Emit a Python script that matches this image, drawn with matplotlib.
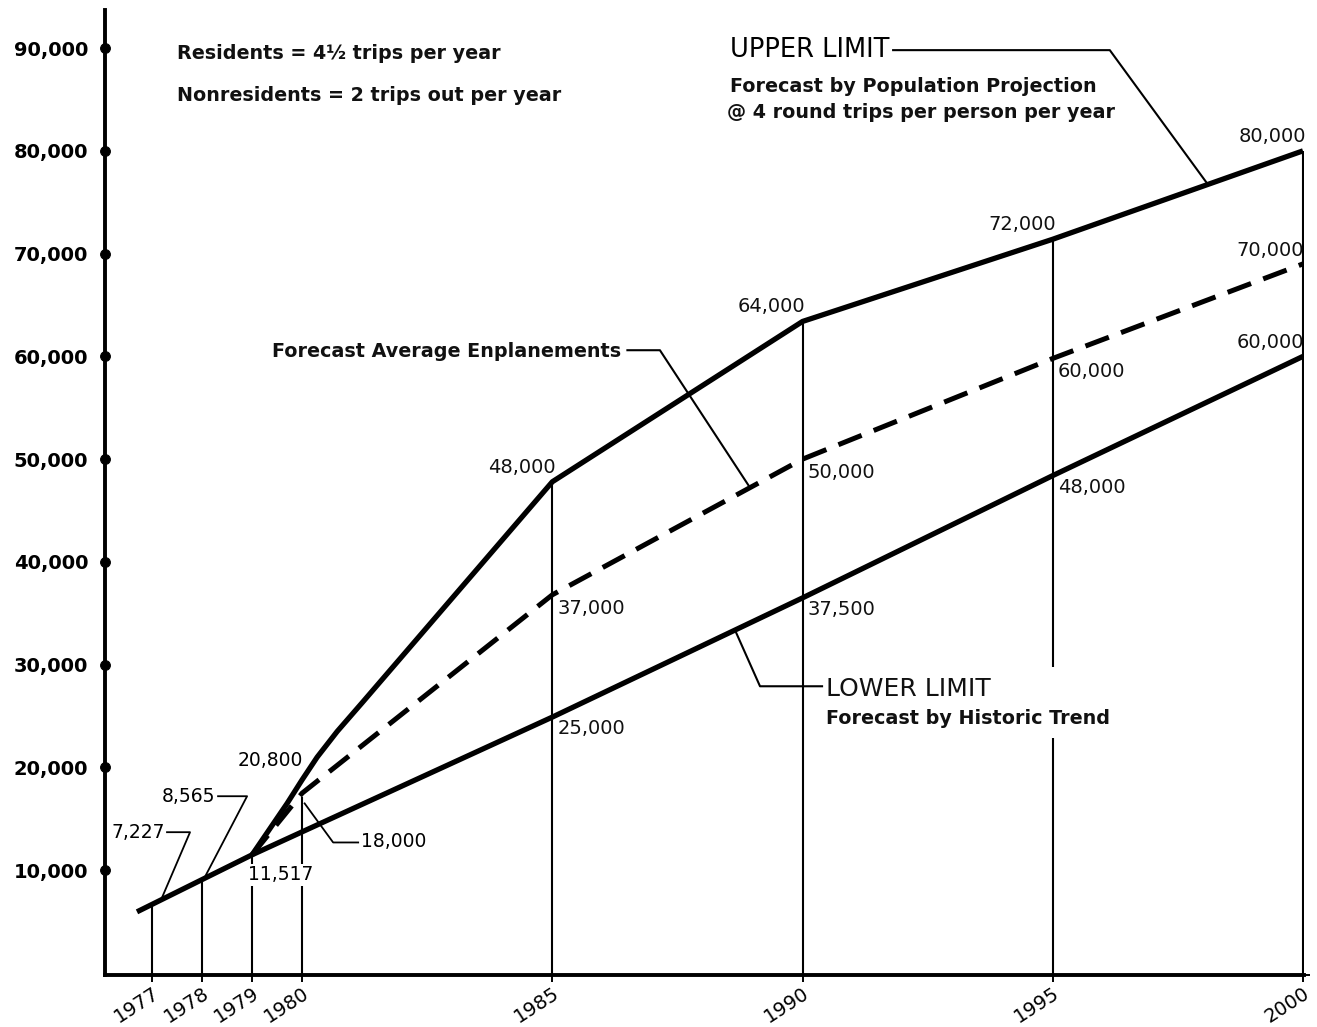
import matplotlib.pyplot as plt
import numpy as np
from matplotlib.offsetbox import TextArea, VPacker, AnnotationBbox

plt.rcParams['font.family'] = ['DejaVu Sans']

# axis ticks
tick_years = [1977, 1978, 1979, 1980, 1985, 1990, 1995, 2000]
y_ticks = [10000, 20000, 30000, 40000, 50000, 60000, 70000, 80000, 90000]

# forecast lines as drawn
upper_years = [1979, 1979.7, 1980, 1980.3, 1980.7, 1981.2, 1985, 1990, 1995, 2000]
upper_vals = [11500, 16500, 18800, 21000, 23500, 26300, 47800, 63400, 71400, 80000]

avg_years = [1979, 1980, 1985, 1990, 1995, 2000]
avg_vals = [11500, 17500, 36800, 50000, 59800, 69000]

lower_years = [1976.7, 1979, 1985, 1990, 1995, 2000]
lower_vals = [5950, 11500, 24900, 36500, 48400, 60000]

# printed values
upper_labels = ['48,000', '64,000', '72,000', '80,000']
avg_labels = ['37,000', '50,000', '60,000', '70,000']
lower_labels = ['25,000', '37,500', '48,000', '60,000']
label_years = [1985, 1990, 1995, 2000]

fig = plt.figure(figsize=(13.17, 10.27), dpi=100)
ax = fig.add_axes([0.0797, 0.0506, 0.9104, 0.9396])
ax.set_xlim(1976.06, 2000.02)
ax.set_ylim(-200, 93700)

def on(years, vals, x):
    return float(np.interp(x, years, vals))

# vertical year lines up to the top curve
vert_tops = [on(lower_years, lower_vals, 1977), on(lower_years, lower_vals, 1978),
             on(lower_years, lower_vals, 1979), on(avg_years, avg_vals, 1980) - 400,
             on(upper_years, upper_vals, 1985), on(upper_years, upper_vals, 1990),
             on(upper_years, upper_vals, 1995), on(upper_years, upper_vals, 2000)]
ax.vlines(tick_years, 0, vert_tops, color='black', lw=1.5, zorder=2)

ax.plot(upper_years, upper_vals, color='black', lw=3.8, solid_capstyle='butt', zorder=3)
ax.plot(lower_years, lower_vals, color='black', lw=3.8, solid_capstyle='butt', zorder=3)
ax.plot(avg_years, avg_vals, color='black', lw=3.6, linestyle=(0, (5, 2.6)), zorder=3)

# point labels
lab = dict(fontsize=14, color='#111111', textcoords='offset pixels', zorder=5)
for yr, t in zip(label_years, upper_labels):
    ax.annotate(t, (yr, on(upper_years, upper_vals, yr)), xytext=(3, 5), ha='right', va='bottom', **lab)
for yr, t in zip(label_years, avg_labels):
    if yr == 2000:
        ax.annotate(t, (yr, on(avg_years, avg_vals, yr)), xytext=(1, 4), ha='right', va='bottom', **lab)
    else:
        ax.annotate(t, (yr, on(avg_years, avg_vals, yr)), xytext=(5, -4), ha='left', va='top', **lab)
for yr, t in zip(label_years, lower_labels):
    if yr == 2000:
        ax.annotate(t, (yr, on(lower_years, lower_vals, yr)), xytext=(1, 4), ha='right', va='bottom', **lab)
    else:
        ax.annotate(t, (yr, on(lower_years, lower_vals, yr)), xytext=(5, -2), ha='left', va='top', **lab)

# early year labels with leaders
ax.text(1977.26, 13650, '7,227', ha='right', va='center', fontsize=13.5)
ax.plot([1977.30, 1977.76, 1977.18], [13700, 13700, on(lower_years, lower_vals, 1977.18)],
        color='black', lw=1.3)
ax.text(1978.26, 17150, '8,565', ha='right', va='center', fontsize=13.5)
ax.plot([1978.32, 1978.90, 1978.04], [17200, 17200, on(lower_years, lower_vals, 1978.04)],
        color='black', lw=1.3)
ax.text(1980.02, 20700, '20,800', ha='right', va='center', fontsize=13.5)
ax.text(1978.92, 9550, '11,517', ha='left', va='center', fontsize=13.5, zorder=6,
        bbox=dict(fc='white', ec='none', pad=1))
ax.plot([1980.05, 1980.62, 1981.12], [16500, 12700, 12700], color='black', lw=1.3)
ax.text(1981.18, 12750, '18,000', ha='left', va='center', fontsize=13.5)

# notes
bold = dict(fontsize=13.8, fontweight='bold', color='#111111')
ax.text(1977.5, 89500, 'Residents = 4½ trips per year', ha='left', va='center', **bold)
ax.text(1977.5, 85400, 'Nonresidents = 2 trips out per year', ha='left', va='center', **bold)

ax.text(1988.55, 89800, 'UPPER LIMIT', ha='left', va='center', fontsize=18.5)
ax.text(1988.55, 86300, 'Forecast by Population Projection', ha='left', va='center', **bold)
ax.text(1988.5, 83700, '@ 4 round trips per person per year', ha='left', va='center', **bold)
ax.plot([1991.81, 1996.14, 1998.1], [89800, 89800, on(upper_years, upper_vals, 1998.1)],
        color='black', lw=1.5)

ax.text(1979.4, 60500, 'Forecast Average Enplanements', ha='left', va='center', **bold)
ax.plot([1986.5, 1987.15, 1988.95], [60600, 60600, on(avg_years, avg_vals, 1988.95)],
        color='black', lw=1.5)

low_box = VPacker(children=[TextArea('LOWER LIMIT', textprops=dict(fontsize=18, color='#111111')),
                            TextArea('Forecast by Historic Trend', textprops=bold)],
                  align='left', pad=0, sep=6)
ab = AnnotationBbox(low_box, (1990.47, 26350), box_alignment=(0, 0.5), frameon=True,
                    bboxprops=dict(fc='white', ec='none'), pad=0.7, zorder=6)
ax.add_artist(ab)
ax.plot([1988.65, 1989.15, 1990.39], [on(lower_years, lower_vals, 1988.65), 27900, 27900],
        color='black', lw=1.5, zorder=7)

# axes styling
for s in ['top', 'right']:
    ax.spines[s].set_visible(False)
for s in ['left', 'bottom']:
    ax.spines[s].set_linewidth(2.8)
ax.set_xticks(tick_years)
ax.set_xticklabels([str(y) for y in tick_years], rotation=33, ha='right',
                   rotation_mode='anchor', fontsize=14)
ax.set_yticks(y_ticks)
ax.set_yticklabels([f'{v:,}' for v in y_ticks], fontsize=14, fontweight='bold')
ax.tick_params(axis='y', length=0, pad=12)
ax.tick_params(axis='x', length=0, pad=6)
for t in ax.yaxis.get_major_ticks():
    t.tick1line.set_marker('o')
    t.tick1line.set_markersize(7)
    t.tick1line.set_markerfacecolor('black')
    t.tick1line.set_markeredgecolor('black')
for t in ax.xaxis.get_major_ticks():
    t.tick1line.set_marker('+')
    t.tick1line.set_markersize(10)
    t.tick1line.set_markeredgewidth(1.4)

fig.savefig('out.png', dpi=100)
